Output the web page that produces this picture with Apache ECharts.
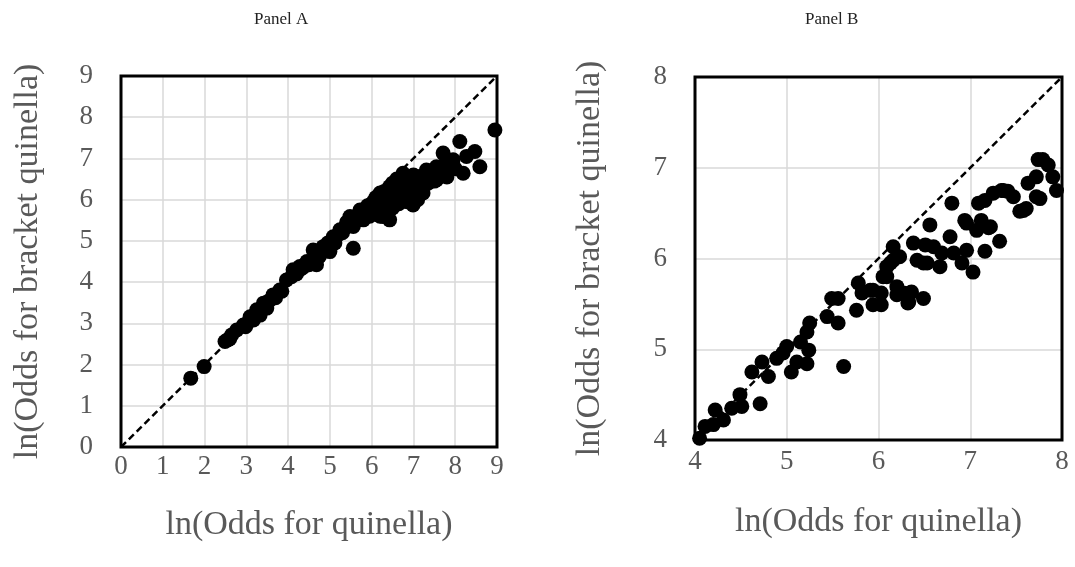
<!DOCTYPE html>
<html>
<head>
<meta charset="utf-8">
<script src="https://cdn.jsdelivr.net/npm/echarts@6/dist/echarts.min.js"></script>
<style>
html,body{margin:0;padding:0;background:#fff;}
#c{width:1075px;height:567px;}
</style>
</head>
<body>
<div id="c"></div>
<script>
// Panel A: ln(odds quinella) vs ln(odds bracket quinella)
const xA = [1.67,1.99,2.49,2.55,2.65,2.6,2.77,2.93,2.98,3.02,3.09,3.17,3.2,3.25,3.33,3.41,3.45,3.49,3.55,3.64,3.7,3.8,3.85,3.96,4.08,4.12,4.2,4.28,4.28,4.35,4.45,4.5,4.6,4.6,4.68,4.7,4.75,4.84,4.9,4.95,5.0,5.05,5.08,5.12,5.2,5.24,5.3,5.35,5.4,5.48,5.5,5.56,5.56,5.6,5.65,5.72,5.75,5.8,5.85,5.88,5.9,5.95,6.0,6.04,6.05,6.1,6.15,6.2,6.2,6.25,6.27,6.3,6.35,6.4,6.43,6.43,6.45,6.5,6.5,6.55,6.6,6.6,6.65,6.7,6.75,6.75,6.8,6.83,6.85,6.9,6.95,6.99,7.0,7.05,7.1,7.15,7.2,7.23,7.3,7.31,7.35,7.45,7.5,7.55,7.55,7.6,7.63,7.71,7.75,7.8,7.85,7.95,8.0,8.11,8.19,8.27,8.47,8.59,8.95];
const yA = [1.67,1.95,2.56,2.6,2.72,2.62,2.84,2.96,2.92,3.0,3.16,3.08,3.2,3.33,3.2,3.49,3.4,3.37,3.55,3.69,3.62,3.81,3.78,4.05,4.13,4.3,4.2,4.3,4.38,4.35,4.5,4.42,4.54,4.78,4.42,4.7,4.62,4.86,4.8,4.95,4.74,5.0,5.1,4.95,5.15,5.27,5.2,5.3,5.45,5.59,5.4,5.35,4.82,5.55,5.5,5.75,5.6,5.51,5.65,5.75,5.85,5.6,5.9,5.95,5.7,6.05,5.8,6.16,5.6,5.9,5.59,6.2,6.0,5.7,6.32,5.51,6.1,6.4,5.8,6.2,6.0,6.5,5.9,6.3,6.64,6.1,6.4,6.24,5.95,6.5,6.2,5.87,6.6,6.35,6.0,6.56,6.3,6.16,6.6,6.72,6.4,6.7,6.45,6.8,6.48,6.65,6.56,7.13,6.85,6.55,6.9,6.97,6.75,7.41,6.64,7.05,7.17,6.8,7.69];

// Panel B
const xB = [4.05,4.11,4.22,4.2,4.31,4.4,4.49,4.51,4.62,4.71,4.73,4.8,4.89,4.96,5.0,5.05,5.11,5.15,5.22,5.24,5.22,5.25,5.44,5.49,5.56,5.62,5.56,5.78,5.76,5.82,5.91,5.94,6.03,6.03,6.09,6.13,6.2,6.23,6.27,6.33,6.36,6.38,6.42,6.49,6.49,6.56,6.6,6.67,6.69,6.78,6.8,6.82,6.91,6.96,6.96,7.03,7.07,7.09,7.16,7.16,7.22,7.25,7.32,7.34,7.41,7.47,7.54,7.61,7.63,7.72,7.74,7.72,7.79,7.85,7.9,7.94,7.76,7.58,7.36,7.12,7.2,6.94,6.53,6.51,6.16,6.05,6.2,6.34,6.32,6.09,5.94,6.16];
const yB = [4.02,4.15,4.33,4.17,4.22,4.35,4.5,4.37,4.75,4.4,4.86,4.7,4.9,4.96,5.03,4.75,4.86,5.08,4.84,4.99,5.19,5.29,5.36,5.56,5.56,4.81,5.29,5.73,5.43,5.62,5.65,5.49,5.49,5.62,5.8,5.95,5.69,6.02,5.62,5.52,5.63,6.17,5.98,5.95,5.56,6.37,6.13,5.91,6.06,6.24,6.61,6.06,5.95,6.39,6.09,5.85,6.31,6.61,6.08,6.64,6.35,6.72,6.19,6.75,6.74,6.68,6.52,6.55,6.83,6.9,7.09,6.68,7.09,7.03,6.9,6.75,6.66,6.53,6.75,6.42,6.34,6.42,5.95,6.15,5.98,5.8,5.6,5.62,5.51,5.91,5.65,6.13];

const ticksA = [0,1,2,3,4,5,6,7,8,9];
const ticksB = [4,5,6,7,8];
const diagA = [0,9];
const diagB = [4,8];

const panelTitles = ['Panel A','Panel B'];
const xTitle = 'ln(Odds for quinella)';
const yTitle = 'ln(Odds for bracket quinella)';

const FONT = 'Liberation Serif';
const GREY = '#595959';

function axis(idx, ticks, isX, labelMargin, name, nameGap){
  return {
    type:'value', gridIndex: idx,
    min: ticks[0], max: ticks[ticks.length-1], interval: 1,
    axisLine:{show:false}, axisTick:{show:false},
    splitLine:{show:true, lineStyle:{color:'#d9d9d9', width:1.5}},
    axisLabel:{color:GREY, fontFamily:FONT, fontSize:27, margin:labelMargin},
    name: name, nameLocation:'middle', nameGap: nameGap,
    nameRotate: isX ? 0 : 90,
    nameTextStyle:{color:GREY, fontFamily:FONT, fontSize:34}
  };
}

const chart = echarts.init(document.getElementById('c'), null, {renderer:'canvas'});
chart.setOption({
  animation:false,
  backgroundColor:'#fff',
  title:[
    {text:panelTitles[0], left:249, top:6, textStyle:{fontFamily:FONT, fontSize:17, fontWeight:'normal', color:'#222'}},
    {text:panelTitles[1], left:800, top:6, textStyle:{fontFamily:FONT, fontSize:17, fontWeight:'normal', color:'#222'}}
  ],
  grid:[
    {left:121, top:76, width:376, height:371, show:true, borderColor:'#000', borderWidth:3, backgroundColor:'transparent', z:3},
    {left:695, top:77, width:367, height:363, show:true, borderColor:'#000', borderWidth:3, backgroundColor:'transparent', z:3}
  ],
  xAxis:[
    axis(0, ticksA, true, 6, xTitle, 61),
    axis(1, ticksB, true, 8, xTitle, 65)
  ],
  yAxis:[
    axis(0, ticksA, false, 28, yTitle, 76),
    axis(1, ticksB, false, 28, yTitle, 88)
  ],
  series:[
    {type:'line', xAxisIndex:0, yAxisIndex:0, data: diagA.map(v=>[v,v]), showSymbol:false, z:4,
     lineStyle:{color:'#000', width:2.5, type:[7,4]}},
    {type:'scatter', xAxisIndex:0, yAxisIndex:0, data: xA.map((v,i)=>[v,yA[i]]), symbolSize:15, z:5,
     itemStyle:{color:'#000', opacity:1}},
    {type:'line', xAxisIndex:1, yAxisIndex:1, data: diagB.map(v=>[v,v]), showSymbol:false, z:4,
     lineStyle:{color:'#000', width:2.5, type:[7,4]}},
    {type:'scatter', xAxisIndex:1, yAxisIndex:1, data: xB.map((v,i)=>[v,yB[i]]), symbolSize:15, z:5,
     itemStyle:{color:'#000', opacity:1}}
  ]
});
</script>
</body>
</html>
